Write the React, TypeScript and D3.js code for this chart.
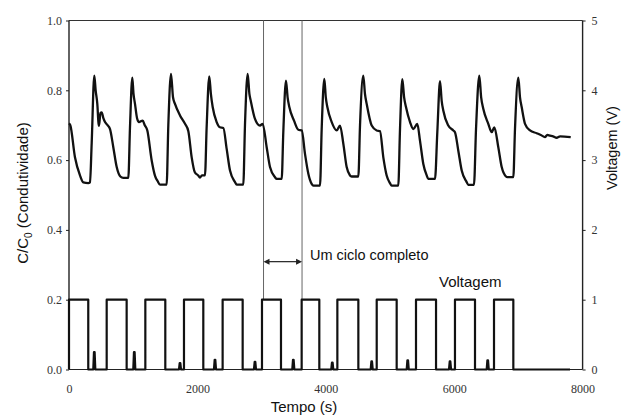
import React, { useEffect, useRef } from 'react';
import * as d3 from 'd3';

const W = 622;
const H = 417;
const PLOT = { left: 69, right: 582.6, top: 20.5, bottom: 369.5 };

const xTicks = [0, 2000, 4000, 6000, 8000];
const yLeftTicks = [0, 0.2, 0.4, 0.6, 0.8, 1.0];
const yRightTicks = [0, 1, 2, 3, 4, 5];

// Conductivity C/C0 trace (time in s, value)
const condTime = [
  0, 20, 93, 171, 223, 300, 327, 353, 394, 415, 441, 460, 467, 490, 509, 535, 561, 600, 639,
  690, 743, 800, 846, 924, 950, 986, 1005, 1028, 1060, 1090, 1148, 1180, 1220,
  1288, 1340, 1380, 1417, 1521, 1547, 1589, 1620, 1651, 1729, 1807, 1859,
  1911, 1960, 2014, 2040, 2070, 2118, 2144, 2185, 2210, 2238, 2300, 2352, 2404,
  2456, 2508, 2586, 2612, 2715, 2741, 2783, 2810, 2830, 2897, 2975, 3017,
  3079, 3131, 3209, 3235, 3313, 3338, 3380, 3405, 3432, 3505, 3572, 3625,
  3676, 3728, 3780, 3806, 3910, 3936, 3977, 4000, 4024, 4092, 4170, 4221,
  4273, 4325, 4377, 4403, 4507, 4533, 4584, 4610, 4637, 4715, 4793, 4844,
  4896, 4948, 5000, 5026, 5129, 5156, 5192, 5220, 5249, 5312, 5363, 5425,
  5467, 5519, 5572, 5597, 5701, 5737, 5779, 5805, 5830, 5908, 5986, 6012,
  6064, 6117, 6194, 6220, 6308, 6340, 6391, 6420, 6453, 6531, 6584, 6625,
  6687, 6740, 6807, 6827, 6921, 6947, 6999, 7025, 7051, 7103, 7181, 7285,
  7350, 7414, 7450, 7492, 7540, 7596, 7650, 7815,
];
const condValue = [
  0.705, 0.70, 0.608, 0.556, 0.536, 0.534, 0.536, 0.647, 0.842, 0.80, 0.761, 0.705, 0.698, 0.735, 0.737, 0.72, 0.709, 0.70, 0.689,
  0.637, 0.58, 0.553, 0.549, 0.549, 0.694, 0.836, 0.79, 0.761, 0.72, 0.709, 0.713, 0.70, 0.685,
  0.599, 0.555, 0.54, 0.530, 0.530, 0.70, 0.847, 0.78, 0.761, 0.728, 0.704, 0.683,
  0.608, 0.565, 0.556, 0.550, 0.556, 0.556, 0.694, 0.840, 0.79, 0.752, 0.709, 0.694, 0.692,
  0.632, 0.57, 0.537, 0.530, 0.530, 0.70, 0.847, 0.79, 0.771, 0.718, 0.699, 0.704,
  0.637, 0.58, 0.551, 0.546, 0.546, 0.68, 0.828, 0.78, 0.752, 0.713, 0.687, 0.685,
  0.618, 0.561, 0.532, 0.527, 0.527, 0.69, 0.833, 0.78, 0.752, 0.709, 0.685, 0.699,
  0.647, 0.58, 0.556, 0.553, 0.553, 0.70, 0.842, 0.79, 0.761, 0.699, 0.685, 0.683,
  0.608, 0.556, 0.534, 0.527, 0.527, 0.69, 0.832, 0.78, 0.752, 0.709, 0.689, 0.704,
  0.656, 0.589, 0.556, 0.546, 0.546, 0.68, 0.826, 0.77, 0.742, 0.699, 0.685, 0.68,
  0.627, 0.57, 0.537, 0.529, 0.529, 0.69, 0.842, 0.78, 0.747, 0.704, 0.68, 0.694,
  0.637, 0.58, 0.553, 0.551, 0.551, 0.69, 0.836, 0.78, 0.752, 0.704, 0.685, 0.677,
  0.672, 0.666, 0.672, 0.67, 0.668, 0.664, 0.668, 0.666,
];

// Voltage square wave (s, V)
const riseTimes = [0, 587, 1189, 1791, 2393, 3006, 3624, 4180, 4793, 5405, 6012, 6620];
const fallTimes = [300, 898, 1500, 2092, 2705, 3302, 3899, 4507, 5104, 5717, 6324, 6921];
const voltageOn = 1;
const voltageOff = 0;
const blipTimes = [394, 1017, 1729, 2274, 2897, 3494, 4101, 4715, 5276, 5935, 6522];
const blipHeights = [0.25, 0.25, 0.09, 0.14, 0.11, 0.14, 0.1, 0.115, 0.13, 0.115, 0.13];
const voltageEnd = 7804;

// "Um ciclo completo" markers
const cycleMarkers = [3030, 3630];
const cycleArrowLevel = 0.309;

const x = d3.scaleLinear().domain([0, 8000]).range([PLOT.left, PLOT.right]);
const yL = d3.scaleLinear().domain([0, 1]).range([PLOT.bottom, PLOT.top]);
const yR = d3.scaleLinear().domain([0, 5]).range([PLOT.bottom, PLOT.top]);

function buildVoltage(): [number, number][] {
  const pts: [number, number][] = [];
  riseTimes.forEach((r, i) => {
    const f = fallTimes[i];
    pts.push([r, voltageOff], [r, voltageOn], [f, voltageOn], [f, voltageOff]);
    if (i < blipTimes.length) {
      const b = blipTimes[i];
      pts.push([b - 16, voltageOff], [b - 5, blipHeights[i]], [b + 5, blipHeights[i]], [b + 16, voltageOff]);
    }
  });
  pts.push([voltageEnd, voltageOff]);
  return pts;
}

export default function App() {
  const leftRef = useRef<SVGGElement>(null);
  const rightRef = useRef<SVGGElement>(null);
  const bottomRef = useRef<SVGGElement>(null);

  useEffect(() => {
    const style = (g: d3.Selection<SVGGElement, unknown, null, undefined>) => {
      g.attr('font-family', '"Liberation Serif", "Times New Roman", serif').attr('font-size', 12);
      g.select('.domain').remove();
      g.selectAll('text').attr('fill', '#333');
      g.selectAll('line').attr('stroke', '#222').attr('stroke-width', 1);
    };
    if (leftRef.current) {
      const g = d3.select(leftRef.current);
      g.selectAll('*').remove();
      g.call(d3.axisLeft(yL).tickValues(yLeftTicks).tickFormat(d3.format('.1f')).tickSize(3).tickPadding(4));
      style(g);
    }
    if (rightRef.current) {
      const g = d3.select(rightRef.current);
      g.selectAll('*').remove();
      g.call(d3.axisRight(yR).tickValues(yRightTicks).tickFormat(d3.format('d')).tickSize(3).tickPadding(6));
      style(g);
    }
    if (bottomRef.current) {
      const g = d3.select(bottomRef.current);
      g.selectAll('*').remove();
      g.call(d3.axisBottom(x).tickValues(xTicks).tickFormat(d3.format('d')).tickSize(0).tickPadding(15));
      style(g);
    }
  }, []);

  const condData = condTime.map((t, i) => [t, condValue[i]] as [number, number]);
  const condLine = d3
    .line<[number, number]>()
    .x((d) => x(d[0]))
    .y((d) => yL(d[1]))
    .curve(d3.curveMonotoneX);
  const voltLine = d3
    .line<[number, number]>()
    .x((d) => x(d[0]))
    .y((d) => yR(d[1]));

  const ay = yL(cycleArrowLevel);
  const ax0 = x(cycleMarkers[0]);
  const ax1 = x(cycleMarkers[1]);
  const sans = '"Liberation Sans", Arial, sans-serif';

  return (
    <svg
      width={W}
      height={H}
      style={{ position: 'absolute', left: 0, top: 0, background: '#fff' }}
    >
      <rect x={0} y={0} width={W} height={H} fill="#fff" />
      {/* frame */}
      <line x1={PLOT.left} x2={PLOT.right} y1={PLOT.top} y2={PLOT.top} stroke="#333" strokeWidth={1} />
      <line x1={PLOT.left} x2={PLOT.right} y1={PLOT.bottom} y2={PLOT.bottom} stroke="#222" strokeWidth={1.2} />
      <line x1={PLOT.left} x2={PLOT.left} y1={PLOT.top} y2={PLOT.bottom} stroke="#222" strokeWidth={1.4} />
      <line x1={PLOT.right} x2={PLOT.right} y1={PLOT.top} y2={PLOT.bottom} stroke="#222" strokeWidth={1.4} />

      <g ref={leftRef} transform={`translate(${PLOT.left},0)`} />
      <g ref={rightRef} transform={`translate(${PLOT.right},0)`} />
      <g ref={bottomRef} transform={`translate(0,${PLOT.bottom})`} />

      {/* cycle markers */}
      {cycleMarkers.map((t) => (
        <line key={t} x1={x(t)} x2={x(t)} y1={PLOT.top} y2={yR(voltageOn)} stroke="#666" strokeWidth={1} />
      ))}
      <line x1={ax0 + 4} x2={ax1 - 4} y1={ay} y2={ay} stroke="#222" strokeWidth={1.2} />
      <path d={`M${ax0},${ay} l6,-3 l0,6 z`} fill="#222" />
      <path d={`M${ax1},${ay} l-6,-3 l0,6 z`} fill="#222" />

      {/* data */}
      <path d={voltLine(buildVoltage()) || ''} fill="none" stroke="#111" strokeWidth={2.2} strokeLinejoin="round" />
      <path d={condLine(condData) || ''} fill="none" stroke="#111" strokeWidth={2.3} strokeLinejoin="round" />

      {/* annotations */}
      <text x={310} y={259.5} fontFamily={sans} fontSize={14.5} fill="#111">
        Um ciclo completo
      </text>
      <text x={439} y={287} fontFamily={sans} fontSize={15} fill="#111">
        Voltagem
      </text>

      {/* axis titles */}
      <text x={304} y={412} textAnchor="middle" fontFamily={sans} fontSize={15} fill="#111">
        Tempo (s)
      </text>
      <text transform="translate(28,193) rotate(-90)" textAnchor="middle" fontFamily={sans} fontSize={15} fill="#111">
        C/C
        <tspan fontSize={10} dy={4}>0</tspan>
        <tspan dy={-4}> (Condutividade)</tspan>
      </text>
      <text transform="translate(617,148) rotate(-90)" textAnchor="middle" fontFamily={sans} fontSize={14.5} fill="#111">
        Voltagem (V)
      </text>
    </svg>
  );
}
